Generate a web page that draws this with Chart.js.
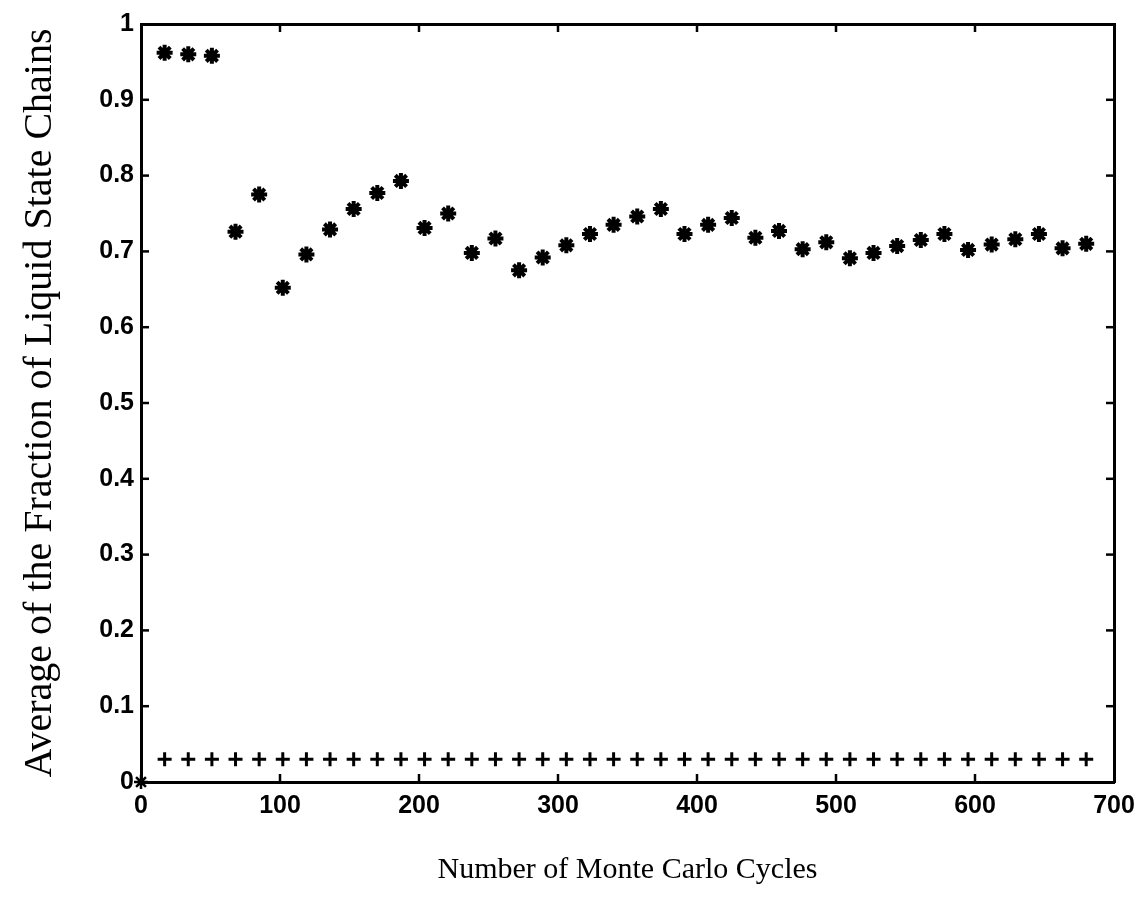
<!DOCTYPE html>
<html>
<head>
<meta charset="utf-8">
<style>
  html, body { margin: 0; padding: 0; background: #fff; }
  canvas { display: block; }
</style>
<script src="https://cdn.jsdelivr.net/npm/chart.js@4.4.0/dist/chart.umd.min.js"></script>
</head>
<body>
<canvas id="chart" width="1144" height="897"></canvas>
<script>
// Monte Carlo cycle at which each average was sampled
const cycles = [17, 34, 51, 68, 85, 102, 119, 136, 153, 170,
                187, 204, 221, 238, 255, 272, 289, 306, 323, 340,
                357, 374, 391, 408, 425, 442, 459, 476, 493, 510,
                527, 544, 561, 578, 595, 612, 629, 646, 663, 680];

// Average fraction of liquid-state chains (asterisks)
const liquidFraction = [0.962, 0.960, 0.958, 0.726, 0.775, 0.652, 0.696, 0.729, 0.756, 0.777,
                        0.793, 0.731, 0.750, 0.698, 0.717, 0.675, 0.692, 0.708, 0.723, 0.735,
                        0.746, 0.756, 0.723, 0.735, 0.744, 0.718, 0.727, 0.703, 0.712, 0.691,
                        0.698, 0.707, 0.715, 0.723, 0.702, 0.709, 0.716, 0.723, 0.704, 0.710];

// Second series (plus signs)
const lowerFraction = [0.03, 0.03, 0.03, 0.03, 0.03, 0.03, 0.03, 0.03, 0.03, 0.03,
                       0.03, 0.03, 0.03, 0.03, 0.03, 0.03, 0.03, 0.03, 0.03, 0.03,
                       0.03, 0.03, 0.03, 0.03, 0.03, 0.03, 0.03, 0.03, 0.03, 0.03,
                       0.03, 0.03, 0.03, 0.03, 0.03, 0.03, 0.03, 0.03, 0.03, 0.03];

// Starting point at the origin
const originCycle = [0];
const originFraction = [0];

const xTickValues = [0, 100, 200, 300, 400, 500, 600, 700];
const xTickLabels = ['0', '100', '200', '300', '400', '500', '600', '700'];
const yTickValues = [0, 0.1, 0.2, 0.3, 0.4, 0.5, 0.6, 0.7, 0.8, 0.9, 1];
const yTickLabels = ['0', '0.1', '0.2', '0.3', '0.4', '0.5', '0.6', '0.7', '0.8', '0.9', '1'];

const xTitle = 'Number of Monte Carlo Cycles';
const yTitle = 'Average of the Fraction of Liquid State Chains';

const toPoints = (xs, ys) => xs.map((x, i) => ({ x: x, y: ys[i] }));

const tickFont = { family: 'Liberation Sans', weight: 'bold', size: 25 };

// Short tick marks pointing into the plot box on all four sides
const innerTicks = {
  id: 'innerTicks',
  afterDraw(chart) {
    const { ctx, chartArea: a, scales } = chart;
    const L = 8;
    ctx.save();
    ctx.strokeStyle = '#000';
    ctx.lineWidth = 2.5;
    const seg = (x1, y1, x2, y2) => { ctx.beginPath(); ctx.moveTo(x1, y1); ctx.lineTo(x2, y2); ctx.stroke(); };
    xTickValues.forEach(v => {
      const px = scales.x.getPixelForValue(v);
      if (px <= a.left + 1 || px >= a.right - 1) return;
      seg(px, a.bottom, px, a.bottom - L);
      seg(px, a.top, px, a.top + L);
    });
    yTickValues.forEach(v => {
      const py = scales.y.getPixelForValue(v);
      if (py <= a.top + 1 || py >= a.bottom - 1) return;
      seg(a.left, py, a.left + L, py);
      seg(a.right, py, a.right - L, py);
    });
    ctx.restore();
  }
};

const frameBorder = { display: true, color: '#000', width: 3 };

new Chart(document.getElementById('chart'), {
  type: 'scatter',
  data: {
    datasets: [
      {
        data: toPoints(cycles, liquidFraction),
        pointStyle: 'star',
        pointRadius: 8,
        borderWidth: 4,
        borderColor: '#000',
        backgroundColor: '#000',
        clip: false
      },
      {
        data: toPoints(cycles, lowerFraction),
        pointStyle: 'cross',
        pointRadius: 7,
        borderWidth: 3,
        borderColor: '#000',
        backgroundColor: '#000',
        clip: false
      },
      {
        data: toPoints(originCycle, originFraction),
        pointStyle: 'star',
        pointRadius: 7,
        borderWidth: 2.5,
        borderColor: '#000',
        backgroundColor: '#000',
        clip: false
      }
    ]
  },
  options: {
    responsive: false,
    animation: false,
    layout: { padding: 0 },
    plugins: {
      legend: { display: false },
      tooltip: { enabled: false }
    },
    scales: {
      x: {
        type: 'linear',
        position: 'bottom',
        min: 0,
        max: 700,
        afterBuildTicks: s => { s.ticks = xTickValues.map(v => ({ value: v })); },
        afterFit: s => { s.height = 115; },
        ticks: {
          color: '#000',
          font: tickFont,
          padding: 9,
          maxRotation: 0,
          callback: (v, i) => xTickLabels[i]
        },
        grid: { display: false, drawTicks: false },
        border: frameBorder,
        title: {
          display: true,
          text: xTitle,
          color: '#000',
          font: { family: 'Liberation Serif', size: 30 },
          padding: { top: 0, bottom: 9 }
        }
      },
      x2: {
        type: 'linear',
        position: 'top',
        min: 0,
        max: 700,
        afterFit: s => { s.height = 24; },
        ticks: { display: false },
        grid: { display: false, drawTicks: false },
        border: frameBorder
      },
      y: {
        type: 'linear',
        position: 'left',
        min: 0,
        max: 1,
        afterBuildTicks: s => { s.ticks = yTickValues.map(v => ({ value: v })); },
        afterFit: s => { s.width = 141; },
        ticks: {
          color: '#000',
          font: tickFont,
          padding: 7,
          callback: (v, i) => yTickLabels[i]
        },
        grid: { display: false, drawTicks: false },
        border: frameBorder,
        title: {
          display: true,
          text: yTitle,
          color: '#000',
          font: { family: 'Liberation Serif', size: 40 },
          padding: { top: 16, bottom: 0 }
        }
      },
      y2: {
        type: 'linear',
        position: 'right',
        min: 0,
        max: 1,
        afterFit: s => { s.width = 30; },
        ticks: { display: false },
        grid: { display: false, drawTicks: false },
        border: frameBorder
      }
    }
  },
  plugins: [innerTicks]
});
</script>
</body>
</html>
